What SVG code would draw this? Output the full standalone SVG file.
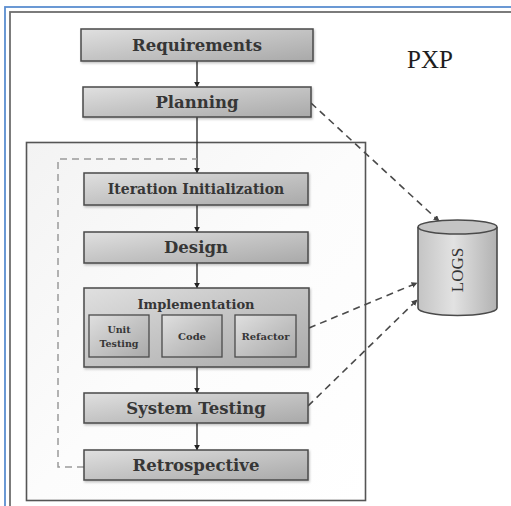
<svg xmlns="http://www.w3.org/2000/svg" width="511" height="506" viewBox="0 0 511 506">
  <defs>
    <linearGradient id="boxFill" x1="0" y1="0" x2="1" y2="1">
      <stop offset="0" stop-color="#e0e0e0"/>
      <stop offset="0.45" stop-color="#c6c6c6"/>
      <stop offset="1" stop-color="#a9a9a9"/>
    </linearGradient>
    <linearGradient id="cylFill" x1="0" y1="0" x2="1" y2="0">
      <stop offset="0" stop-color="#c4c4c4"/>
      <stop offset="0.45" stop-color="#e2e2e2"/>
      <stop offset="1" stop-color="#b2b2b2"/>
    </linearGradient>
    <linearGradient id="frameFill" x1="0" y1="0" x2="1" y2="1">
      <stop offset="0" stop-color="#f3f3f3"/>
      <stop offset="0.5" stop-color="#fcfcfc"/>
      <stop offset="1" stop-color="#ffffff"/>
    </linearGradient>
    <marker id="arrow" viewBox="0 0 10 10" refX="9" refY="5" markerWidth="6" markerHeight="6" orient="auto" markerUnits="userSpaceOnUse">
      <path d="M0,0 L10,5 L0,10 z" fill="#222"/>
    </marker>
    <marker id="arrowGray" viewBox="0 0 10 10" refX="9" refY="5" markerWidth="6" markerHeight="6" orient="auto" markerUnits="userSpaceOnUse">
      <path d="M0,0 L10,5 L0,10 z" fill="#444"/>
    </marker>
    <filter id="shadow" x="-5%" y="-10%" width="110%" height="130%">
      <feDropShadow dx="1" dy="1.5" stdDeviation="1" flood-color="#000" flood-opacity="0.25"/>
    </filter>
  </defs>
  <style>
    .box { fill: url(#boxFill); stroke: #4a4a4a; stroke-width: 1.5; filter: url(#shadow); }
    .sub { fill: url(#boxFill); stroke: #4a4a4a; stroke-width: 1.3; }
    .lbl { font-family: "DejaVu Serif", "Liberation Serif", serif; font-weight: bold; fill: #363636; text-anchor: middle; dominant-baseline: central; }
    .flow { stroke: #222; stroke-width: 1.3; fill: none; }
    .log { stroke: #4a4a4a; stroke-width: 1.6; fill: none; stroke-dasharray: 7 5; }
    .loop { stroke: #9a9a9a; stroke-width: 1.5; fill: none; stroke-dasharray: 7 5; }
  </style>

  <rect x="0" y="0" width="511" height="506" fill="#ffffff"/>

  <!-- page frame: blue outer rule and grey inner rule -->
  <rect x="5" y="7" width="520" height="520" fill="none" stroke="#5b8ed0" stroke-width="1.8"/>
  <rect x="10" y="12" width="520" height="520" fill="none" stroke="#6e6e6e" stroke-width="1.8"/>

  <!-- iteration frame -->
  <rect x="26.5" y="142.5" width="339" height="358" fill="url(#frameFill)" stroke="#555" stroke-width="1.6"/>

  <text x="430" y="59" font-family="Liberation Serif, serif" font-size="25" fill="#1e1e1e" text-anchor="middle" dominant-baseline="central">PXP</text>

  <g id="connectors">
    <line class="flow" x1="197" y1="61" x2="197" y2="87" marker-end="url(#arrow)"/>
    <line class="flow" x1="197" y1="117" x2="197" y2="173" marker-end="url(#arrow)"/>
    <line class="flow" x1="197" y1="205" x2="197" y2="232" marker-end="url(#arrow)"/>
    <line class="flow" x1="197" y1="263" x2="197" y2="288" marker-end="url(#arrow)"/>
    <line class="flow" x1="197" y1="367" x2="197" y2="393" marker-end="url(#arrow)"/>
    <line class="flow" x1="197" y1="423" x2="197" y2="450" marker-end="url(#arrow)"/>
    <line class="flow" x1="149" y1="336" x2="162" y2="336" marker-end="url(#arrow)"/>
    <line class="flow" x1="222" y1="336" x2="235" y2="336" marker-end="url(#arrow)"/>
    <!-- feedback loop from retrospective back to iteration start -->
    <path class="loop" d="M84,467 H58 V159 H197"/>
    <!-- log connections -->
    <line class="log" x1="311" y1="103" x2="439" y2="221" marker-end="url(#arrowGray)"/>
    <line class="log" x1="309" y1="328" x2="417" y2="283" marker-end="url(#arrowGray)"/>
    <line class="log" x1="308" y1="406" x2="417" y2="300" marker-end="url(#arrowGray)"/>
  </g>

  <g id="requirements">
    <rect class="box" x="81" y="29" width="232" height="32"/>
    <text class="lbl" x="197" y="45" font-size="16.5">Requirements</text>
  </g>
  <g id="planning">
    <rect class="box" x="83" y="87" width="228" height="30"/>
    <text class="lbl" x="197" y="102" font-size="16.5">Planning</text>
  </g>
  <g id="iteration-initialization">
    <rect class="box" x="84" y="173" width="224" height="32"/>
    <text class="lbl" x="196" y="189" font-size="14">Iteration Initialization</text>
  </g>
  <g id="design">
    <rect class="box" x="84" y="232" width="224" height="31"/>
    <text class="lbl" x="196" y="247.5" font-size="16.5">Design</text>
  </g>
  <g id="implementation">
    <rect class="box" x="84" y="288" width="225" height="79"/>
    <text class="lbl" x="196" y="304" font-size="13">Implementation</text>
  </g>
  <g id="unit-testing">
    <rect class="sub" x="89" y="315" width="60" height="42"/>
    <text class="lbl" x="119" y="329" font-size="9.5">Unit</text>
    <text class="lbl" x="119" y="343" font-size="9.5">Testing</text>
  </g>
  <g id="code">
    <rect class="sub" x="162" y="315" width="60" height="42"/>
    <text class="lbl" x="192" y="336" font-size="10">Code</text>
  </g>
  <g id="refactor">
    <rect class="sub" x="235" y="315" width="61" height="42"/>
    <text class="lbl" x="265.5" y="336" font-size="10">Refactor</text>
  </g>
  <g id="system-testing">
    <rect class="box" x="84" y="393" width="224" height="30"/>
    <text class="lbl" x="196" y="408" font-size="16.5">System Testing</text>
  </g>
  <g id="retrospective">
    <rect class="box" x="84" y="450" width="224" height="30"/>
    <text class="lbl" x="196" y="465" font-size="16.5">Retrospective</text>
  </g>

  <g id="logs">
    <path d="M418,227 V308 A39.5,7.5 0 0 0 497,308 V227" fill="url(#cylFill)" stroke="#4a4a4a" stroke-width="1.6"/>
    <ellipse cx="457.5" cy="227" rx="39.5" ry="7" fill="#c4c4c4" stroke="#4a4a4a" stroke-width="1.6"/>
    <text x="457" y="270" font-family="Liberation Serif, serif" font-size="17" fill="#333" text-anchor="middle" dominant-baseline="central" transform="rotate(-90 457 270)">LOGS</text>
  </g>
</svg>
